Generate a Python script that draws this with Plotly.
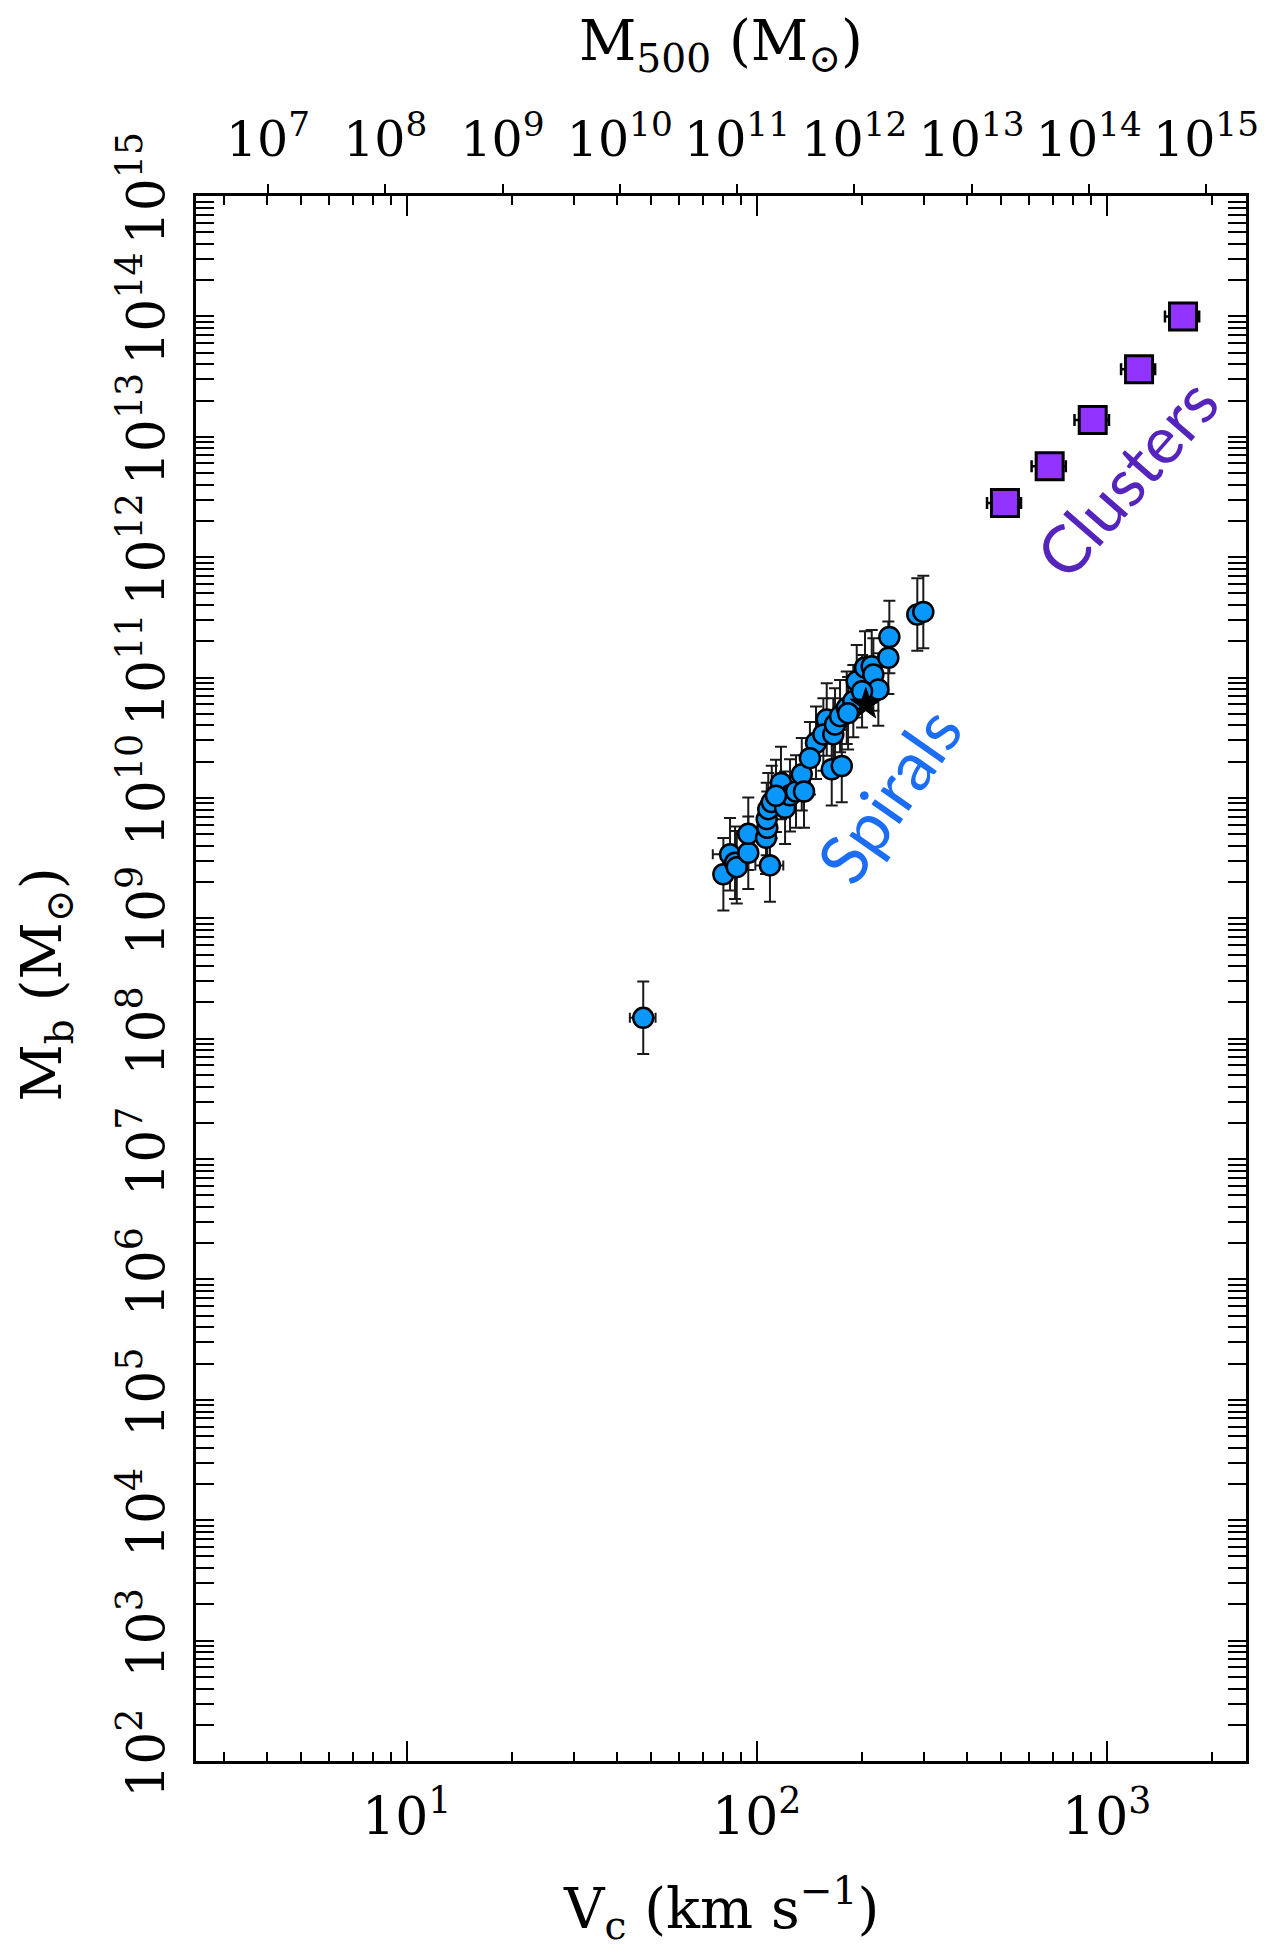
import numpy as np
import plotly.graph_objects as go

# --- Spiral galaxies: circular velocity (km/s) and baryonic mass (Msun) ---
spiral_vc = [80.3, 83.9, 86.7, 87.7, 94.6, 94.6, 109.1, 106.3, 107.2, 106.8,
             107.9, 110.4, 117.3, 120.5, 124.5, 129.5, 134.5, 136.5, 147.7, 158.5,
             155.0, 165.5, 167.4, 163.8, 175.0, 173.0, 180.8, 188.8, 193.1, 203.9,
             213.1, 215.4, 222.6, 237.7, 239.3, 287.6, 299.2, 47.4, 113.5, 141.9,
             182.4, 200.0]
spiral_vc_err = [4, 9, 4, 4, 5, 5, 10, 5, 5, 5,
                 5, 6, 6, 6, 6, 7, 7, 7, 8, 8,
                 8, 8, 8, 8, 9, 9, 9, 10, 10, 10,
                 11, 11, 11, 12, 12, 14, 15, 4, 6, 7,
                 9, 10]
spiral_mb = [2.32e9, 3.40e9, 2.89e9, 2.66e9, 3.50e9, 5.03e9, 2.75e9, 4.67e9, 5.65e9, 6.67e9,
             8.07e9, 9.23e9, 1.33e10, 8.28e9, 1.05e10, 1.13e10, 1.57e10, 1.13e10, 2.87e10, 4.49e10,
             3.37e10, 3.37e10, 4.07e10, 1.73e10, 1.84e10, 4.78e10, 5.60e10, 6.37e10, 9.33e10, 1.21e11,
             1.24e11, 1.06e11, 7.96e10, 1.46e11, 2.17e11, 3.34e11, 3.51e11, 1.49e8, 1.04e10, 2.14e10,
             5.06e10, 7.70e10]
# baryonic masses are uncertain by a factor of two
mass_err_factor = 2.0

# --- Milky Way ---
mw_vc = [205.0]
mw_mb = [6.0e10]

# --- Galaxy clusters ---
cluster_vc = [512, 687, 912, 1237, 1652]
cluster_vc_err = [57, 77, 103, 138, 185]
cluster_mb = [2.82e12, 5.70e12, 1.38e13, 3.63e13, 1.00e14]

# --- Tick labels ---
vc_tickvals = [10, 100, 1000]
vc_ticktext = ["10<sup>1</sup>", "10<sup>2</sup>", "10<sup>3</sup>"]
mb_exponents = list(range(2, 16))
mb_tickvals = [10.0 ** k for k in mb_exponents]
mb_ticktext = [f"10<sup>{k}</sup>" for k in mb_exponents]
m500_exponents = list(range(7, 16))
m500_tickvals = [10.0 ** k for k in m500_exponents]
m500_ticktext = [f"10<sup>{k}</sup>" for k in m500_exponents]

SERIF = "DejaVu Serif"
HAND = "Lato"
TICK_SIZE = 52
TITLE_SIZE = 56

spiral_mb_arr = np.array(spiral_mb)
spiral_err_plus = spiral_mb_arr * (mass_err_factor - 1.0)
spiral_err_minus = spiral_mb_arr * (1.0 - 1.0 / mass_err_factor)

fig = go.Figure()

fig.add_trace(go.Scatter(
    x=spiral_vc, y=spiral_mb, mode="markers",
    marker=dict(symbol="circle", size=20, color="#0a97fb",
                line=dict(color="black", width=2.5)),
    error_x=dict(type="data", array=spiral_vc_err, color="#1a1a1a",
                 thickness=2, width=5),
    error_y=dict(type="data", symmetric=False, array=spiral_err_plus,
                 arrayminus=spiral_err_minus, color="#1a1a1a",
                 thickness=2, width=6),
    hoverinfo="skip",
))

fig.add_trace(go.Scatter(
    x=mw_vc, y=mw_mb, mode="markers",
    marker=dict(symbol="star", size=24, color="black",
                line=dict(color="black", width=1)),
    hoverinfo="skip",
))

fig.add_trace(go.Scatter(
    x=cluster_vc, y=cluster_mb, mode="markers",
    marker=dict(symbol="square", size=27, color="#9333ff",
                line=dict(color="black", width=3)),
    error_x=dict(type="data", array=cluster_vc_err, color="black",
                 thickness=2.5, width=6),
    hoverinfo="skip",
))

# empty trace so the M500 axis along the top gets drawn
fig.add_trace(go.Scatter(x=[], y=[], xaxis="x2", yaxis="y",
                         mode="markers", hoverinfo="skip"))

axis_common = dict(
    type="log", showgrid=False, zeroline=False, automargin=False,
    tickcolor="black", tickwidth=2,
    tickfont=dict(family=SERIF, size=TICK_SIZE, color="black"),
)

fig.update_layout(
    width=1266, height=1954,
    margin=dict(l=196, r=20, t=196, b=193),
    plot_bgcolor="white", paper_bgcolor="white",
    showlegend=False,
    xaxis=dict(
        **axis_common,
        range=[np.log10(2.5), np.log10(2500)],
        showline=True, linewidth=3, linecolor="black", mirror="allticks",
        ticks="inside", ticklen=20,
        tickmode="array", tickvals=vc_tickvals, ticktext=vc_ticktext,
        ticklabelstandoff=8,
        minor=dict(ticks="inside", ticklen=9, tickwidth=2, tickcolor="black",
                   tickmode="linear", tick0=0, dtick="D1", showgrid=False),
    ),
    xaxis2=dict(
        **axis_common,
        overlaying="x", side="top", anchor="y",
        range=[6.386, 15.341],
        showline=False, ticks="outside", ticklen=11,
        tickmode="array", tickvals=m500_tickvals, ticktext=m500_ticktext,
        ticklabelstandoff=8,
    ),
    yaxis=dict(
        **axis_common,
        range=[2, 15],
        showline=True, linewidth=3, linecolor="black", mirror="allticks",
        ticks="inside", ticklen=18,
        tickmode="array", tickvals=mb_tickvals, ticktext=mb_ticktext,
        tickangle=-90, ticklabelstandoff=8,
        minor=dict(ticks="inside", ticklen=8, tickwidth=2, tickcolor="black",
                   tickmode="linear", tick0=0, dtick="D1", showgrid=False),
    ),
)
fig.update_layout(xaxis2_tickfont_size=49)

# Axis titles
title_font = dict(family=SERIF, size=TITLE_SIZE, color="black")
fig.add_annotation(text="V<sub>c</sub> (km s<sup>−1</sup>)", xref="paper", yref="paper",
                   x=0.5, y=-0.094, xanchor="center", yanchor="middle",
                   showarrow=False, font=title_font)
fig.add_annotation(text="M<sub>500</sub> (M<sub>⊙</sub>)", xref="paper", yref="paper",
                   x=0.5, y=1.097, xanchor="center", yanchor="middle",
                   showarrow=False, font=title_font)
fig.add_annotation(text="M<sub>b</sub> (M<sub>⊙</sub>)", xref="paper", yref="paper",
                   x=-0.143, y=0.496, xanchor="center", yanchor="middle",
                   textangle=-90, showarrow=False, font=title_font)

# Population labels
fig.add_annotation(text="Spirals", x=np.log10(237), y=np.log10(1.07e10),
                   xref="x", yref="y", showarrow=False, textangle=-55,
                   font=dict(family=HAND, size=68, color="#1b6ef3"))
fig.add_annotation(text="Clusters", x=np.log10(1135), y=np.log10(4.6e12),
                   xref="x", yref="y", showarrow=False, textangle=-49,
                   font=dict(family=HAND, size=66, color="#5424bd"))

fig.write_html("out.html")
